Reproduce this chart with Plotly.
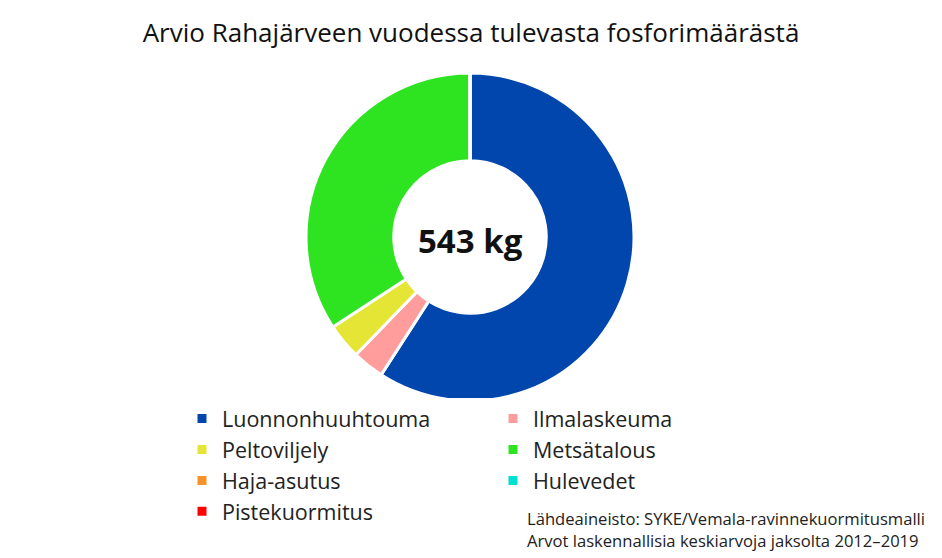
import plotly.graph_objects as go

labels = ["Luonnonhuuhtouma", "Ilmalaskeuma", "Peltoviljely", "Metsätalous",
          "Haja-asutus", "Hulevedet", "Pistekuormitus"]
values = [321, 17, 19, 186, 0, 0, 0]
colors = ["#0046AD", "#FF9C9C", "#E5E535", "#2EE320", "#F7922A", "#00E0D2", "#FF0000"]
title = "Arvio Rahajärveen vuodessa tulevasta fosforimäärästä"
center_text = "543 kg"
source_lines = ["Lähdeaineisto: SYKE/Vemala-ravinnekuormitusmalli",
                "Arvot laskennallisia keskiarvoja jaksolta 2012–2019"]

W, H = 942, 558
R_MARGIN = 200
PW = W - R_MARGIN  # plot-area width used for paper coordinates
cx, cy, r = 470, 237, 164
FONT = "Open Sans"

fig = go.Figure(go.Pie(
    labels=labels, values=values, hole=0.465, sort=False, direction="clockwise",
    rotation=0, marker=dict(colors=colors, line=dict(color="white", width=3)),
    textinfo="none", hoverinfo="label+value",
    domain=dict(x=[(cx - r) / PW, (cx + r) / PW], y=[(H - cy - r) / H, (H - cy + r) / H]),
))

fig.update_layout(
    width=W, height=H, margin=dict(l=0, r=R_MARGIN, t=0, b=0, autoexpand=False),
    paper_bgcolor="white", plot_bgcolor="white",
    font=dict(family=FONT, color="#222222"),
    title=dict(text=title, xref="container", x=0.5, xanchor="center", y=1 - 33 / H, yanchor="middle",
               font=dict(size=26, color="#111111", family=FONT)),
    legend=dict(orientation="h", x=182 / PW, xanchor="left", y=1 - 398 / H, yanchor="top",
                entrywidth=266, entrywidthmode="pixels", traceorder="normal",
                font=dict(size=21.5, color="#222222", family=FONT), itemwidth=30, tracegroupgap=0),
    annotations=[
        dict(text="<b>" + center_text + "</b>", x=cx / PW, y=1 - 240 / H, xref="paper", yref="paper",
             showarrow=False, font=dict(size=33, color="#111111", family=FONT)),
        dict(text="<br>".join(source_lines), x=525 / PW, y=1 - 505 / H, xref="paper", yref="paper",
             xanchor="left", yanchor="top", align="left", showarrow=False,
             font=dict(size=16.6, color="#222222", family=FONT)),
    ],
)

fig.write_html("out.html", config={"displayModeBar": False},
               post_script="document.body.style.margin='0';")
